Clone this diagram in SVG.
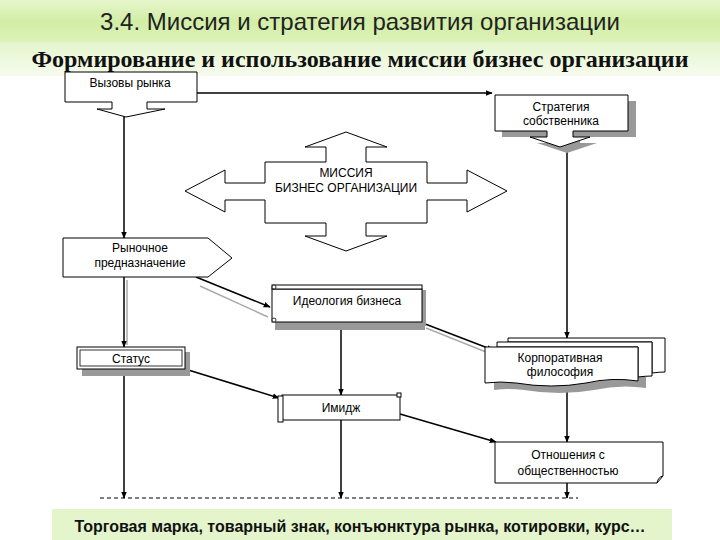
<svg xmlns="http://www.w3.org/2000/svg" width="720" height="540" viewBox="0 0 720 540">
<defs>
<linearGradient id="hdr" x1="0" y1="0" x2="0" y2="1">
<stop offset="0" stop-color="#e6f6cc"/>
<stop offset="0.5" stop-color="#d2eea6"/>
<stop offset="1" stop-color="#dcf2b8"/>
</linearGradient>
<linearGradient id="sub" x1="0" y1="0" x2="0" y2="1">
<stop offset="0" stop-color="#e4f5cc"/>
<stop offset="1" stop-color="#f6fcee"/>
</linearGradient>
<marker id="ah" viewBox="0 0 10 10" refX="9" refY="5" markerWidth="7" markerHeight="7" orient="auto" markerUnits="userSpaceOnUse">
<path d="M0,1 L10,5 L0,9 Z" fill="#000"/>
</marker>
</defs>
<style>
.box{fill:#fff;stroke:#000;stroke-width:1}
.sh{fill:#999;stroke:none}
.t{font-family:"Liberation Sans",Arial,sans-serif;font-size:12px;fill:#000;text-anchor:middle}
.c{stroke:#000;stroke-width:1.5;fill:none}
.g{stroke:#aaa;stroke-width:1.5;fill:none}
</style>
<rect width="720" height="540" fill="#fff"/>
<g id="header">
<rect x="0" y="0" width="720" height="42" fill="url(#hdr)"/>
<text x="360" y="30" font-family="Liberation Sans,Arial,sans-serif" font-size="24" fill="#222" text-anchor="middle">3.4. Миссия и стратегия развития организации</text>
<rect x="0" y="42" width="720" height="34" fill="url(#sub)"/>
<text x="360" y="67" font-family="Liberation Serif,Times New Roman,serif" font-size="24" font-weight="bold" fill="#111" text-anchor="middle">Формирование и использование миссии бизнес организации</text>
</g>
<g id="footer">
<rect x="52" y="509" width="620" height="31" fill="#e4f5cc"/>
<text x="360" y="532" font-family="Liberation Sans,Arial,sans-serif" font-size="16" font-weight="bold" fill="#111" text-anchor="middle">Торговая марка, товарный знак, конъюнктура рынка, котировки, курс…</text>
</g>
<g id="connectors">
<polyline class="c" points="197,93 492,93" marker-end="url(#ah)"/>
<line class="c" x1="124" y1="116" x2="124" y2="238" marker-end="url(#ah)"/>
<line class="c" x1="567" y1="146" x2="567" y2="338" marker-end="url(#ah)"/>
<line class="g" x1="127" y1="280" x2="127" y2="345"/>
<line class="c" x1="124" y1="277" x2="124" y2="347" marker-end="url(#ah)"/>
<line class="g" x1="200" y1="286" x2="268" y2="317"/>
<line class="c" x1="196" y1="277" x2="270" y2="307" marker-end="url(#ah)"/>
<line class="c" x1="341" y1="330" x2="341" y2="395" marker-end="url(#ah)"/>
<line class="g" x1="426" y1="328" x2="486" y2="352"/>
<line class="c" x1="420" y1="322" x2="493" y2="350" marker-end="url(#ah)"/>
<line class="c" x1="185" y1="369" x2="279" y2="398" marker-end="url(#ah)"/>
<line class="c" x1="567" y1="383" x2="567" y2="442" marker-end="url(#ah)"/>
<line class="c" x1="400" y1="414" x2="496" y2="442" marker-end="url(#ah)"/>
<line class="c" x1="124" y1="376" x2="124" y2="498" marker-end="url(#ah)"/>
<line class="c" x1="341" y1="420" x2="341" y2="498" marker-end="url(#ah)"/>
<line class="c" x1="567" y1="483" x2="567" y2="498" marker-end="url(#ah)"/>
<line x1="100" y1="498" x2="578" y2="498" stroke="#000" stroke-width="1" stroke-dasharray="4,3"/>
</g>
<g id="vyzovy">
<path class="box" d="M65,72 H197 V102 H147 V109 H165 L126,117 L97,109 H112 V102 H65 Z"/>
<text class="t" x="130" y="87">Вызовы рынка</text>
</g>
<g id="strategiya">
<path class="sh" d="M502,101 H636 V137 H580 V143 H597 L567,153 L537,143 H554 V137 H502 Z"/>
<path class="box" d="M495,95 H628 V131 H573 V137 H590 L560,147 L530,137 H547 V131 H495 Z"/>
<text class="t" x="561" y="111">Стратегия</text>
<text class="t" x="561" y="125">собственника</text>
</g>
<g id="missiya">
<path class="box" d="M346,132 L387,147 H366 V162 H427 V183 H467 V170 L507,191 L467,212 V200 H427 V223 H366 V236 H387 L346,251 L305,236 H326 V223 H265 V200 H225 V212 L185,191 L225,170 V183 H265 V162 H326 V147 H305 Z"/>
<text class="t" x="346" y="177">МИССИЯ</text>
<text class="t" x="346" y="192">БИЗНЕС ОРГАНИЗАЦИИ</text>
</g>
<g id="rynochnoe">
<path class="box" d="M63,238 H208 L232,258 L208,277 H63 Z"/>
<text class="t" x="140" y="252">Рыночное</text>
<text class="t" x="140" y="267">предназначение</text>
</g>
<g id="ideologiya">
<rect class="sh" x="275" y="322" width="150" height="8"/>
<rect class="sh" x="422" y="290" width="4" height="36"/>
<rect class="box" x="272" y="289" width="150" height="33"/>
<rect class="box" x="272" y="285" width="150" height="4"/>
<circle cx="274" cy="287" r="2" fill="#fff" stroke="#000" stroke-width="0.8"/>
<circle cx="274" cy="320" r="2" fill="#fff" stroke="#000" stroke-width="0.8"/>
<text class="t" x="347" y="305">Идеология бизнеса</text>
</g>
<g id="status">
<rect class="sh" x="82" y="352" width="108" height="24"/>
<rect class="box" x="77" y="347" width="108" height="22"/>
<rect x="80" y="350" width="102" height="16" fill="none" stroke="#000" stroke-width="0.8"/>
<text class="t" x="131" y="363">Статус</text>
</g>
<g id="korporativnaya">
<path class="sh" d="M494,354 H646 V388 Q620,384 594,390 Q560,396 524,390 Q508,388 494,390 Z"/>
<path class="box" d="M508,338 H665 V372 Q660,372 652,373 V342 H508 Z"/>
<path class="box" d="M497,342 H652 V376 Q646,376 638,377 V347 H497 Z"/>
<path class="box" d="M485,347 H638 V381 Q612,377 586,383 Q552,389 516,383 Q500,381 485,383 Z"/>
<text class="t" x="560" y="362">Корпоративная</text>
<text class="t" x="560" y="376">философия</text>
</g>
<g id="imidzh">
<rect class="box" x="282" y="395" width="118" height="25"/>
<rect class="box" x="278" y="396" width="5" height="26"/>
<rect class="box" x="397" y="393" width="4" height="4"/>
<text class="t" x="341" y="412">Имидж</text>
</g>
<g id="otnosheniya">
<path class="box" d="M495,442 H663 V476 L657,483 H495 Z"/>
<path d="M657,483 Q658,477 663,476" fill="none" stroke="#000" stroke-width="1"/>
<text class="t" x="568" y="459">Отношения с</text>
<text class="t" x="568" y="475">общественностью</text>
</g>
</svg>
